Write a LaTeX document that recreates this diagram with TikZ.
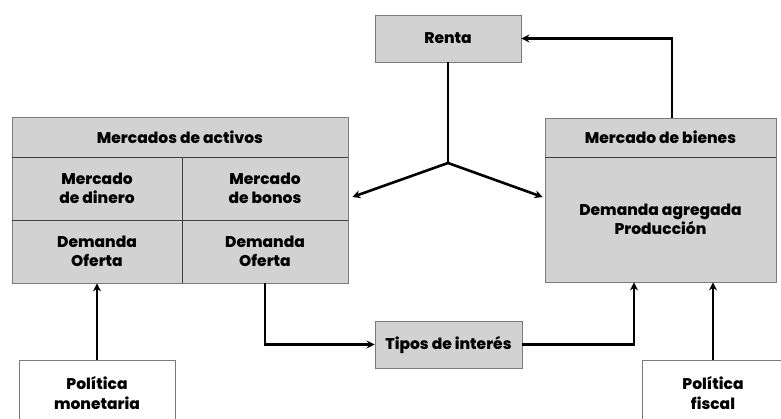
\documentclass[tikz,border=0pt]{standalone}
\usepackage{fontspec}
\setmainfont{Poppins}[BoldFont={Poppins ExtraBold}]
\usepackage{xcolor}
\usetikzlibrary{positioning,arrows.meta,calc}
\definecolor{cajagris}{HTML}{D2D2D2}
\definecolor{bordegris}{HTML}{7A7A7A}

\begin{document}
\begin{tikzpicture}[x=1pt, y=-1pt,
      font=\fontsize{15.5}{19.5}\selectfont\bfseries,
      caja/.style={draw=bordegris, fill=cajagris, align=center, inner sep=0pt, line width=0.8pt},
      blanca/.style={draw=bordegris, fill=white, align=center, inner sep=0pt, line width=0.8pt,
                     minimum width=156pt, minimum height=66pt},
      flecha/.style={-{Stealth[length=8pt,width=8pt]}, line width=2.6pt, black},
      divisor/.style={draw=black!75, line width=1.3pt}]
    \useasboundingbox[fill=white] (0,0) rectangle (781,419);
    % renta e intereses
    \node[caja, minimum width=146pt, minimum height=47pt] (renta) at (448,38.5) {Renta};
    \node[caja, minimum width=147pt, minimum height=47pt] (tipos) at (448.5,344.5) {Tipos de interés};
    % mercados de activos
    \node[caja, minimum width=336pt, minimum height=40pt] (act) at (180,137) {Mercados de activos};
    \node[caja, minimum width=170pt, minimum height=63pt] (din) at (97,188.5) {Mercado\\de dinero};
    \node[caja, minimum width=166pt, minimum height=63pt] (bon) at (265,188.5) {Mercado\\de bonos};
    \node[caja, minimum width=170pt, minimum height=63pt] (dem1) at (97,251.5) {Demanda\\Oferta};
    \node[caja, minimum width=166pt, minimum height=63pt] (dem2) at (265,251.5) {Demanda\\Oferta};
    \draw[divisor] (act.south west) -- (act.south east);
    \draw[divisor] (din.south west) -- (bon.south east);
    \draw[divisor] (din.north east) -- (dem1.south east);
    % mercado de bienes
    \node[caja, minimum width=231pt, minimum height=39pt] (bh) at (660.5,137.5) {Mercado de bienes};
    \node[caja, minimum width=231pt, minimum height=125pt] (bb) at (660.5,219.5) {Demanda agregada\\Producción};
    \draw[divisor] (bh.south west) -- (bh.south east);
    % politicas
    \node[blanca] (mon) at (97,393) {Política\\monetaria};
    \node[blanca, minimum width=142pt] (fis) at (713,393) {Política\\fiscal};
    % conexiones
    \coordinate (junta) at (448,163);
    \draw[flecha] ([xshift=11.5pt]bh.north) |- (renta.east);
    \draw[line width=2.6pt] (renta.south) -- (junta);
    \draw[flecha] (junta) -- ([xshift=4pt,yshift=-8.5pt]bon.east);
    \draw[flecha] (junta) -- ([xshift=-2pt,yshift=22.5pt]bb.west);
    \draw[flecha] (dem2.south) |- (tipos.west);
    \draw[flecha] (tipos.east) -| ([xshift=-26.5pt]bb.south);
    \draw[flecha] (mon.north) -- (dem1.south);
    \draw[flecha] (fis.north) -- (fis.north |- bb.south);
\end{tikzpicture}
\end{document}
